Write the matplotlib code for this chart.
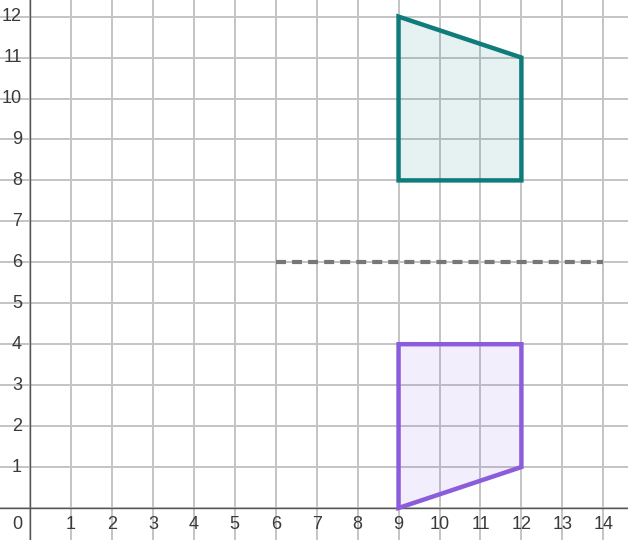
import matplotlib
matplotlib.use("Agg")
import matplotlib.pyplot as plt
from matplotlib.patches import Polygon

# Data
teal_x = [9, 12, 12, 9]
teal_y = [12, 11, 8, 8]
purple_x = [9, 12, 12, 9]
purple_y = [0, 1, 4, 4]
line_x = [6, 14]
line_y = [6, 6]
x_ticks = list(range(1, 15))
y_ticks = list(range(1, 13))

plt.rcParams['font.family'] = ['Liberation Sans', 'DejaVu Sans']

fig = plt.figure(figsize=(6.28, 5.40), dpi=100)
ax = fig.add_axes([0, 0, 1, 1])
unit = 40.95
ax.set_xlim(-30 / unit, (628 - 30) / unit)
ax.set_ylim(-(540 - 508) / unit, 508 / unit)

# grid
for x in range(0, 15):
    ax.axvline(x, color='#c4c4c4', lw=1.4, zorder=0)
for y in range(0, 13):
    ax.axhline(y, color='#c4c4c4', lw=1.4, zorder=0)

# axes lines
ax.axvline(0, color='#555555', lw=1.0, zorder=1)
ax.axhline(0, color='#555555', lw=1.0, zorder=1)

for s in ax.spines.values():
    s.set_visible(False)
ax.set_xticks([])
ax.set_yticks([])

# labels
tc = '#3a3a3a'
for x in x_ticks:
    ax.annotate(str(x), (x, 0), xytext=(0, -8), textcoords='offset pixels',
                ha='center', va='top', fontsize=13, color=tc, zorder=2)
for y in y_ticks:
    ax.annotate(str(y), (0, y), xytext=(-8, 0), textcoords='offset pixels',
                ha='right', va='center', fontsize=13, color=tc, zorder=2)
ax.annotate('0', (0, 0), xytext=(-8, -8), textcoords='offset pixels',
            ha='right', va='top', fontsize=13, color=tc, zorder=2)

# dashed line
ax.plot(line_x, line_y, color='#777777', lw=3.0, dashes=(2.4, 1.45),
        dash_capstyle='butt', zorder=3)

# polygons
teal = '#0e7c7b'
purple = '#8b5cdc'
ax.add_patch(Polygon(list(zip(teal_x, teal_y)), closed=True,
                     facecolor=teal, alpha=0.1, edgecolor='none', zorder=2))
ax.add_patch(Polygon(list(zip(teal_x, teal_y)), closed=True,
                     facecolor='none', edgecolor=teal, lw=3.2, zorder=4,
                     joinstyle='miter'))
ax.add_patch(Polygon(list(zip(purple_x, purple_y)), closed=True,
                     facecolor=purple, alpha=0.1, edgecolor='none', zorder=2))
ax.add_patch(Polygon(list(zip(purple_x, purple_y)), closed=True,
                     facecolor='none', edgecolor=purple, lw=3.2, zorder=4,
                     joinstyle='miter'))

fig.savefig('out.png', dpi=100)
